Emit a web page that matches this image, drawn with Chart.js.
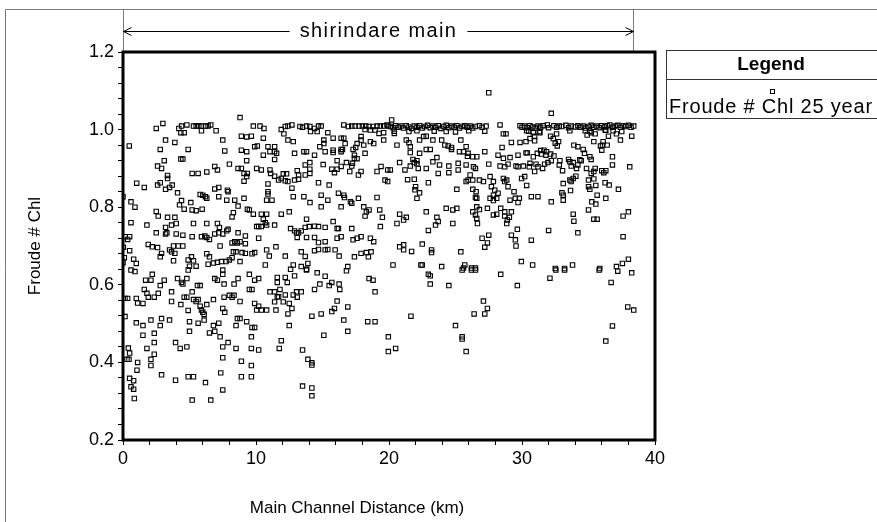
<!DOCTYPE html>
<html>
<head>
<meta charset="utf-8">
<title>shirindare main</title>
<script src="https://cdn.jsdelivr.net/npm/chart.js@4.4.1/dist/chart.umd.min.js"></script>
<style>
  html, body { margin: 0; padding: 0; background: #fff; }
  canvas { display: block; }
</style>
</head>
<body>
<canvas id="graficoFroude" width="877" height="522"></canvas>
<script>
// Froude # Chl ao longo do canal principal, [distância km, Froude]
// dividido por trechos de 10 km
const trecho0a10 = [
  [0.47,0.958],[1.03,0.862],[0.0,0.827],[0.6,0.814],[0.9,0.8],[0.6,0.76],[0.15,0.724],[0.35,0.717],[0.5,0.724],
  [0.03,0.697],[0.5,0.688],[0.1,0.67],[0.0,0.657],[0.8,0.666],[1.0,0.655],[0.6,0.638],[0.9,0.634],[0.15,0.565],
  [0.35,0.565],[1.0,0.565],[1.1,0.553],[0.15,0.518],[1.0,0.502],[0.4,0.437],[0.3,0.408],[0.45,0.408],[0.5,0.424],
  [1.1,0.4],[1.05,0.38],[0.5,0.359],[0.8,0.353],[0.6,0.337],[0.8,0.331],[0.85,0.307],
  [8.8,1.031],[2.5,1.003],[3.0,1.016],[4.2,1.003],[4.4,1.009],[4.8,1.012],[4.35,0.992],[4.6,0.992],[5.3,1.009],
  [5.5,1.009],[5.7,1.009],[5.9,1.009],[6.2,1.009],[6.4,1.009],[6.6,1.012],[5.9,0.997],[7.0,0.997],[9.8,1.009],
  [3.2,0.973],[3.9,0.967],[2.8,0.949],[4.9,0.949],[7.5,0.973],[7.65,0.945],[8.9,0.983],[9.3,0.981],[9.65,0.983],
  [8.9,0.947],[9.3,0.943],[9.9,0.956],[3.1,0.92],[4.35,0.924],[4.5,0.924],[2.6,0.906],[2.9,0.9],[9.3,0.92],
  [8.0,0.911],[8.65,0.9],[8.9,0.9],[6.9,0.905],[7.1,0.896],[3.35,0.882],[3.35,0.874],[5.2,0.887],[5.65,0.887],
  [6.3,0.891],[9.1,0.887],[9.35,0.887],[9.3,0.879],[9.1,0.867],[1.6,0.851],[2.6,0.857],[2.8,0.863],[3.2,0.846],
  [3.5,0.851],[3.7,0.857],[4.1,0.837],[5.8,0.833],[6.0,0.831],[6.2,0.827],[6.3,0.823],[6.9,0.847],[7.2,0.851],
  [7.85,0.844],[7.9,0.84],[7.2,0.827],[7.8,0.818],[8.4,0.818],[9.1,0.823],[4.4,0.817],[4.25,0.806],[4.6,0.795],
  [5.1,0.812],[5.2,0.793],[5.5,0.791],[5.95,0.795],[8.65,0.803],[9.35,0.795],[9.5,0.793],[8.3,0.786],[8.2,0.775],
  [2.5,0.789],[2.65,0.777],[3.35,0.774],[3.9,0.774],[9.8,0.782],[1.8,0.754],[3.2,0.748],[3.65,0.754],[4.0,0.758],
  [5.3,0.758],[6.3,0.758],[7.1,0.758],[7.25,0.748],[7.9,0.743],[2.5,0.734],[3.2,0.731],[3.3,0.734],[4.0,0.731],
  [4.5,0.728],[5.2,0.724],[5.9,0.724],[6.15,0.726],[6.3,0.722],[6.9,0.731],[7.2,0.734],[7.5,0.731],[7.8,0.739],
  [8.65,0.734],[9.2,0.726],[1.9,0.704],[2.2,0.698],[2.6,0.696],[3.65,0.685],[3.8,0.7],[4.15,0.7],[4.5,0.7],
  [3.5,0.69],[3.9,0.681],[2.9,0.681],[2.8,0.672],[6.5,0.717],[7.3,0.7],[8.2,0.708],[8.4,0.711],[8.6,0.708],
  [8.8,0.711],[9.2,0.706],[8.3,0.685],[8.5,0.685],[8.95,0.683],[9.2,0.681],[9.7,0.68],[3.8,0.662],[4.9,0.664],
  [5.15,0.672],[5.3,0.662],[5.0,0.648],[5.5,0.648],[6.3,0.68],[6.5,0.672],[6.4,0.653],[6.8,0.656],[7.1,0.658],
  [7.4,0.66],[7.75,0.66],[8.0,0.664],[8.2,0.67],[8.8,0.66],
  [2.2,0.627],[4.9,0.638],[7.5,0.638],[7.5,0.627],[9.5,0.627],[1.7,0.612],[2.1,0.612],[2.8,0.598],[3.1,0.612],
  [4.1,0.616],[4.4,0.606],[4.5,0.602],[4.8,0.616],[5.6,0.598],[5.8,0.598],[6.9,0.616],[7.1,0.612],[7.6,0.602],
  [8.35,0.602],[8.65,0.616],[9.5,0.588],[9.7,0.588],[1.6,0.588],[1.8,0.578],[1.9,0.568],[2.35,0.568],[2.65,0.578],
  [3.65,0.582],[3.65,0.557],[4.6,0.568],[4.8,0.568],[5.2,0.582],[5.3,0.562],[5.5,0.557],[5.65,0.562],[6.8,0.562],
  [7.6,0.568],[8.0,0.573],[8.35,0.573],[8.2,0.568],[8.8,0.557],[1.5,0.552],[4.35,0.549],[4.9,0.534],[5.8,0.545],
  [5.9,0.535],[6.0,0.529],[6.1,0.524],[6.3,0.549],[7.5,0.539],[7.65,0.529],[1.5,0.495],[2.1,0.509],[2.9,0.513],
  [3.5,0.509],[2.8,0.495],[5.0,0.505],[5.65,0.501],[6.1,0.509],[6.8,0.495],[7.2,0.501],[8.6,0.513],[8.8,0.513],
  [8.5,0.495],[9.3,0.505],[9.7,0.49],[1.5,0.47],[2.35,0.475],[5.0,0.48],[6.5,0.476],[6.9,0.48],[7.3,0.466],
  [9.65,0.466],[2.35,0.451],[1.8,0.436],[3.95,0.451],[4.3,0.436],[4.8,0.44],[7.5,0.44],[7.9,0.451],[8.5,0.436],
  [9.65,0.436],[2.35,0.421],[2.1,0.408],[2.1,0.392],[7.5,0.412],[8.9,0.403],[9.65,0.392],[2.9,0.368],[3.95,0.354],
  [4.9,0.363],[5.3,0.363],[6.2,0.348],[7.35,0.373],[8.9,0.363],[9.65,0.363],[7.5,0.329],[5.2,0.303],[6.6,0.303]
];

const trecho10a20 = [
  [10.3,1.009],[10.6,1.003],[11.9,1.0],[12.2,1.008],[12.4,1.009],[12.7,1.012],[12.1,0.989],[13.3,1.008],[13.5,1.006],
  [13.8,1.009],[14.05,1.008],[14.4,1.003],[14.7,1.009],[14.9,1.009],[14.1,0.995],[14.6,0.995],[15.4,0.992],[16.6,1.012],
  [16.95,1.008],[17.2,1.009],[17.45,1.009],[17.75,1.009],[18.0,1.009],[18.25,1.009],[18.5,1.008],[18.8,1.008],[19.1,1.009],
  [19.35,1.009],[19.6,1.009],[19.85,1.012],[19.95,1.009],[18.2,1.0],[18.6,0.999],[18.95,0.999],[19.25,0.99],[19.6,0.992],
  [10.55,0.978],[10.9,0.956],[11.4,0.956],[12.4,0.973],[12.8,0.969],[15.1,0.973],[15.1,0.964],[14.8,0.956],[15.8,0.978],
  [16.4,0.978],[16.6,0.978],[16.7,0.964],[17.9,0.982],[17.9,0.973],[18.1,0.96],[17.6,0.964],[18.6,0.969],[18.85,0.964],
  [19.6,0.973],[10.1,0.958],[10.55,0.934],[11.05,0.943],[11.4,0.943],[11.55,0.939],[12.9,0.939],[13.6,0.943],[13.8,0.943],
  [14.4,0.934],[15.2,0.943],[15.8,0.947],[15.8,0.941],[16.4,0.949],[16.4,0.943],[16.5,0.949],[17.3,0.949],[17.5,0.954],
  [18.2,0.939],[11.4,0.923],[17.4,0.934],[17.6,0.925],[10.05,0.9],[10.4,0.896],[11.05,0.896],[11.1,0.887],[11.4,0.88],
  [11.7,0.87],[11.9,0.874],[12.2,0.868],[12.4,0.866],[12.05,0.886],[12.3,0.886],[13.1,0.894],[13.2,0.883],[13.2,0.872],
  [12.9,0.87],[13.7,0.909],[14.05,0.915],[14.05,0.898],[14.05,0.887],[13.7,0.883],[15.05,0.91],[15.7,0.898],[15.9,0.889],
  [16.1,0.898],[16.1,0.92],[16.4,0.905],[16.8,0.915],[17.2,0.906],[17.25,0.913],[17.4,0.926],[17.05,0.892],[17.7,0.883],
  [17.9,0.892],[19.1,0.892],[19.4,0.905],[19.9,0.896],[19.7,0.87],[10.9,0.86],[10.9,0.84],[10.9,0.834],[10.8,0.818],
  [11.2,0.818],[12.7,0.849],[12.8,0.827],[13.6,0.827],[14.06,0.812],[14.7,0.863],[15.5,0.857],[14.9,0.831],[15.4,0.818],
  [16.2,0.836],[16.6,0.831],[16.65,0.825],[17.2,0.81],[17.1,0.814],[16.4,0.801],[14.9,0.801],[17.7,0.823],[18.1,0.801],
  [18.3,0.788],[18.5,0.793],[18.2,0.777],[19.1,0.825],[19.35,0.75],[19.9,0.866],[10.4,0.782],[10.8,0.782],[10.55,0.769],
  [10.7,0.76],[10.05,0.75],[10.2,0.75],[10.4,0.75],[10.8,0.754],[11.4,0.754],[10.2,0.72],[11.9,0.782],[12.5,0.788],
  [13.8,0.769],[12.6,0.745],[12.9,0.739],[13.05,0.734],[13.2,0.734],[13.4,0.739],[13.7,0.748],[14.0,0.75],[14.4,0.751],
  [14.7,0.75],[15.2,0.748],[13.1,0.722],[13.8,0.722],[14.4,0.722],[14.7,0.709],[15.2,0.711],[15.8,0.763],[16.1,0.745],
  [16.2,0.745],[16.1,0.72],[16.4,0.724],[17.2,0.745],[17.3,0.716],[17.6,0.72],[17.9,0.724],[18.6,0.72],[18.85,0.711],
  [19.3,0.793],[19.5,0.774],[9.9,0.683],[10.8,0.69],[11.0,0.674],[11.5,0.698],[12.2,0.674],[13.4,0.685],[13.7,0.673],
  [14.4,0.688],[14.7,0.691],[15.2,0.69],[15.4,0.691],[15.95,0.69],[16.25,0.674],[13.4,0.647],[13.9,0.655],[13.8,0.64],
  [16.9,0.647],[17.4,0.672],[17.9,0.681],[18.3,0.683],[18.65,0.685],[18.45,0.672],[10.7,0.651],[12.8,0.651],[12.6,0.64],
  [9.9,0.612],[10.2,0.616],[11.6,0.619],[11.6,0.606],[12.2,0.619],[12.35,0.606],[12.9,0.623],[13.8,0.638],[14.6,0.631],
  [15.2,0.622],[15.7,0.606],[16.25,0.602],[15.5,0.598],[14.8,0.602],[16.3,0.588],[14.4,0.588],[16.8,0.636],[18.5,0.616],
  [18.8,0.612],[18.95,0.582],[11.05,0.582],[11.4,0.582],[11.8,0.588],[11.7,0.569],[11.6,0.569],[12.2,0.574],[12.8,0.574],
  [13.05,0.582],[13.4,0.582],[13.1,0.568],[11.4,0.556],[12.05,0.556],[12.5,0.552],[12.7,0.539],[9.9,0.552],[10.2,0.545],
  [10.05,0.535],[10.4,0.535],[10.8,0.535],[11.5,0.535],[12.4,0.525],[12.5,0.495],[14.2,0.519],[14.9,0.525],[15.7,0.531],
  [15.9,0.539],[16.1,0.558],[16.9,0.543],[16.6,0.509],[16.9,0.48],[15.1,0.47],[18.4,0.505],[18.95,0.505],[9.9,0.49],
  [11.9,0.456],[11.75,0.436],[10.2,0.432],[13.5,0.432],[13.9,0.408],[14.2,0.399],[14.2,0.393],[13.5,0.339],[14.2,0.334],
  [14.2,0.314],[19.95,0.466],[19.95,0.428]
];

const trecho20a30 = [
  [20.1,1.008],[20.3,1.005],[20.5,1.01],[20.7,1.006],[20.9,1.009],[21.1,1.004],[21.3,1.01],[21.5,1.007],[21.7,1.003],
  [21.9,1.009],[22.1,1.006],[22.3,1.01],[22.5,1.004],[22.7,1.008],[22.9,1.011],[23.1,1.005],[23.3,1.009],[23.5,1.006],
  [23.7,1.01],[23.9,1.003],[24.1,1.008],[24.3,1.011],[24.5,1.005],[24.7,1.009],[24.9,1.006],[25.1,1.01],[25.3,1.004],
  [25.5,1.008],[25.7,1.01],[25.9,1.006],[26.1,1.009],[26.3,1.004],[26.5,1.008],[26.8,1.01],[27.0,1.006],[27.3,1.009],
  [20.4,0.996],[21.5,0.995],[22.1,0.997],[23.4,0.996],[24.3,0.995],[25.0,0.994],[26.0,0.997],[27.2,0.996],
  [20.2,1.025],[20.4,0.99],[28.35,1.012],[28.6,0.989],[28.8,0.989],[29.85,1.01],[30.0,1.006],[27.5,1.095],
  [20.6,0.96],[21.3,0.973],[21.5,0.966],[22.3,0.973],[22.6,0.982],[22.8,0.983],[23.3,0.973],[23.96,0.973],[24.2,0.96],
  [24.45,0.958],[24.7,0.954],[24.7,0.949],[25.4,0.973],[22.8,0.949],[23.1,0.949],[25.8,0.956],[25.3,0.943],[25.6,0.943],
  [25.95,0.939],[26.3,0.93],[26.6,0.93],[27.2,0.943],[28.5,0.954],[29.2,0.967],[29.85,0.967],[28.2,0.934],[28.6,0.926],
  [29.1,0.928],[29.7,0.934],[21.6,0.956],[21.6,0.941],[22.3,0.939],[22.1,0.92],[21.8,0.923],[20.8,0.915],[21.2,0.896],
  [21.6,0.906],[21.9,0.915],[22.1,0.912],[22.2,0.9],[22.8,0.9],[23.3,0.917],[23.6,0.928],[23.8,0.909],[23.7,0.887],
  [24.5,0.906],[24.5,0.889],[25.2,0.913],[25.2,0.896],[25.8,0.909],[25.9,0.931],[26.35,0.904],[26.1,0.883],[26.5,0.9],
  [27.5,0.911],[28.35,0.906],[28.7,0.904],[28.95,0.911],[29.55,0.906],[29.7,0.904],[30.1,0.906],[20.1,0.896],[21.4,0.871],
  [21.9,0.872],[22.0,0.853],[21.95,0.845],[22.3,0.837],[22.1,0.823],[22.96,0.863],[25.1,0.846],[25.8,0.866],[25.95,0.87],
  [26.3,0.87],[26.8,0.87],[27.1,0.866],[26.3,0.846],[26.55,0.84],[26.5,0.825],[26.6,0.823],[27.6,0.879],[27.85,0.866],
  [27.7,0.853],[27.95,0.844],[27.85,0.831],[28.2,0.836],[28.1,0.823],[27.6,0.823],[27.85,0.817],[28.6,0.874],[28.7,0.866],
  [28.85,0.87],[28.95,0.853],[29.4,0.84],[29.1,0.818],[29.5,0.823],[29.8,0.823],[29.7,0.812],[29.97,0.874],[20.8,0.782],
  [20.6,0.758],[21.1,0.767],[21.3,0.774],[22.8,0.788],[23.6,0.774],[23.7,0.763],[23.5,0.754],[24.3,0.797],[24.8,0.793],
  [25.1,0.797],[24.8,0.758],[26.3,0.788],[26.6,0.801],[26.8,0.794],[26.5,0.78],[26.6,0.771],[26.65,0.758],[27.4,0.797],
  [27.85,0.78],[28.1,0.782],[28.4,0.797],[28.7,0.788],[28.7,0.777],[28.9,0.767],[28.85,0.758],[29.05,0.774],[29.2,0.788],
  [22.96,0.74],[20.8,0.698],[21.1,0.703],[21.1,0.69],[21.7,0.686],[22.5,0.705],[23.2,0.69],[23.2,0.683],[25.4,0.685],
  [27.0,0.72],[27.5,0.728],[27.4,0.708],[27.2,0.697],[29.65,0.743],[29.2,0.728],[29.5,0.716],[29.55,0.7],[20.3,0.651],
  [22.4,0.651],[22.5,0.651],[23.96,0.647],[25.6,0.643],[25.7,0.651],[26.2,0.643],[26.5,0.643],[29.95,0.66],
  [25.5,0.638],[26.2,0.638],[26.5,0.638],[22.96,0.627],[23.1,0.623],[28.4,0.627],[23.1,0.602],[24.5,0.598],[29.65,0.598],
  [27.1,0.558],[27.4,0.539],[26.4,0.525],[27.2,0.525],[21.65,0.519],[25.0,0.495],[25.5,0.466],[25.5,0.46],[20.5,0.436],
  [25.8,0.428]
];

const trecho30a40 = [
  [32.2,1.042],[30.2,1.009],[30.4,1.005],[30.6,1.01],[30.8,1.007],[31.0,1.004],[31.2,1.009],[31.4,1.006],[31.6,1.01],
  [31.9,1.012],[32.0,1.005],[32.4,1.01],[32.6,1.006],[32.8,1.009],[33.0,1.008],[33.3,1.011],[33.5,1.005],[33.7,1.009],
  [34.0,1.007],[34.2,1.01],[34.4,1.006],[34.6,1.009],[34.8,1.004],[35.0,1.008],[35.2,1.011],[35.4,1.006],[35.6,1.009],
  [35.8,1.005],[36.0,1.01],[36.2,1.007],[36.4,1.01],[36.6,1.012],[36.8,1.006],[37.0,1.009],[37.2,1.011],[37.4,1.006],
  [37.6,1.01],[37.8,1.008],[38.0,1.011],[38.2,1.006],[38.4,1.009],[30.5,0.996],[31.3,0.995],[33.6,0.997],[35.1,0.996],
  [36.3,0.998],[37.5,0.995],[30.35,0.997],[30.85,0.992],[31.35,0.992],[30.6,0.977],[30.95,0.983],[30.95,0.971],
  [30.3,0.969],[32.15,0.983],[32.6,0.989],[32.35,0.977],[32.75,0.969],[32.65,0.958],[32.5,0.965],[34.75,0.997],
  [34.9,0.986],[35.2,0.992],[35.5,0.989],[36.25,0.999],[36.5,0.983],[36.85,0.997],[37.1,0.989],[37.4,0.973],[38.25,0.983],
  [35.4,0.969],[36.1,0.969],[35.9,0.958],[36.05,0.96],[36.4,0.96],[36.0,0.947],[30.3,0.94],[30.4,0.94],[30.85,0.93],
  [31.15,0.939],[31.4,0.946],[31.65,0.947],[31.85,0.943],[31.45,0.937],[31.8,0.934],[32.15,0.937],[32.4,0.932],[32.2,0.92],
  [33.9,0.96],[34.2,0.956],[34.6,0.949],[34.7,0.939],[35.1,0.93],[35.2,0.923],[34.35,0.922],[33.5,0.923],[33.6,0.917],
  [33.85,0.915],[33.7,0.906],[34.1,0.9],[34.2,0.909],[34.45,0.92],[36.8,0.93],[36.8,0.909],[38.1,0.904],[30.6,0.913],
  [30.55,0.904],[31.05,0.911],[31.2,0.904],[31.55,0.9],[31.7,0.911],[31.95,0.915],[32.85,0.92],[33.05,0.894],[32.8,0.909],
  [30.95,0.892],[34.85,0.9],[35.2,0.887],[35.5,0.9],[35.4,0.892],[36.0,0.894],[36.3,0.894],[36.15,0.889],[30.2,0.879],
  [30.35,0.856],[33.1,0.861],[33.6,0.87],[33.85,0.874],[33.7,0.866],[34.05,0.88],[35.0,0.87],[35.4,0.873],[35.55,0.856],
  [35.0,0.853],[35.1,0.846],[36.25,0.863],[36.55,0.857],[37.25,0.846],[30.7,0.827],[31.2,0.827],[32.2,0.814],[33.0,0.837],
  [33.1,0.831],[33.1,0.818],[33.65,0.843],[35.25,0.814],[35.55,0.808],[35.65,0.831],[36.3,0.823],[33.85,0.782],[33.9,0.764],
  [35.4,0.769],[35.65,0.769],[35.0,0.793],[37.6,0.777],[38.0,0.788],[32.0,0.74],[34.2,0.734],[37.6,0.724],[30.7,0.715],
  [30.8,0.651],[32.5,0.642],[33.2,0.642],[33.8,0.651],[35.85,0.642],[37.1,0.647],[37.55,0.655],[38.0,0.666],
  [32.1,0.617],[32.55,0.638],[33.2,0.638],[35.8,0.638],[37.2,0.635],[38.25,0.631],[36.7,0.606],[37.95,0.543],[38.4,0.535],
  [36.8,0.494],[36.3,0.455]
];

// extensão do trecho "shirindare main" (km)
const trechoPrincipal = [0, 38.35];

// rótulos dos eixos
const rotulosX = [0, 10, 20, 30, 40];
const rotulosY = ['0.2', '0.4', '0.6', '0.8', '1.0', '1.2'];

const fonte = '"Liberation Sans", Arial, sans-serif';

const pontos = trecho0a10.concat(trecho10a20, trecho20a30, trecho30a40)
  .map(([x, y]) => ({ x, y }));

// moldura, cabeçalho com a seta do trecho, título do eixo x e caixa de legenda
const decoracao = {
  id: 'decoracao',
  afterDraw(chart) {
    const { ctx, chartArea: a } = chart;
    const escalaX = chart.scales.x;
    ctx.save();

    // moldura externa cinza
    ctx.strokeStyle = '#7a7a7a';
    ctx.lineWidth = 1;
    ctx.beginPath();
    ctx.moveTo(5.5, 522);
    ctx.lineTo(5.5, 9.5);
    ctx.lineTo(877, 9.5);
    const xIni = Math.round(escalaX.getPixelForValue(trechoPrincipal[0])) + 0.5;
    const xFim = Math.round(escalaX.getPixelForValue(trechoPrincipal[1])) + 0.5;
    ctx.moveTo(xIni, 9.5); ctx.lineTo(xIni, a.top);
    ctx.moveTo(xFim, 9.5); ctx.lineTo(xFim, a.top);
    ctx.stroke();

    // seta com o nome do trecho
    const ySeta = 31.5;
    const xMeio = (xIni + xFim) / 2;
    ctx.font = '20px ' + fonte;
    ctx.letterSpacing = '1.4px';
    ctx.fillStyle = '#000';
    ctx.textAlign = 'center';
    ctx.textBaseline = 'middle';
    const nome = 'shirindare main';
    const meiaLarg = ctx.measureText(nome).width / 2 + 10;
    ctx.fillText(nome, xMeio, ySeta);
    ctx.strokeStyle = '#000';
    ctx.beginPath();
    ctx.moveTo(xIni, ySeta); ctx.lineTo(xMeio - meiaLarg, ySeta);
    ctx.moveTo(xMeio + meiaLarg, ySeta); ctx.lineTo(xFim, ySeta);
    ctx.moveTo(xIni + 8, ySeta - 4); ctx.lineTo(xIni, ySeta); ctx.lineTo(xIni + 8, ySeta + 4);
    ctx.moveTo(xFim - 8, ySeta - 4); ctx.lineTo(xFim, ySeta); ctx.lineTo(xFim - 8, ySeta + 4);
    ctx.stroke();

    // título do eixo x
    ctx.letterSpacing = '0px';
    ctx.font = '17px ' + fonte;
    ctx.fillText('Main Channel Distance (km)', 357, 508);

    // borda grossa da área do gráfico
    ctx.lineWidth = 3;
    ctx.strokeRect(a.left, a.top, a.right - a.left, a.bottom - a.top);

    // caixa de legenda
    ctx.lineWidth = 1;
    ctx.strokeStyle = '#333';
    ctx.strokeRect(666.5, 50.5, 220, 68);
    ctx.beginPath();
    ctx.moveTo(666.5, 79.5); ctx.lineTo(877, 79.5);
    ctx.stroke();
    ctx.font = 'bold 19px ' + fonte;
    ctx.fillText('Legend', 771, 65);
    ctx.strokeStyle = '#000';
    ctx.strokeRect(770.5, 89.5, 4, 4);
    ctx.font = '20px ' + fonte;
    ctx.letterSpacing = '0.8px';
    ctx.textAlign = 'left';
    ctx.fillText('Froude # Chl 25 year', 669, 107);
    ctx.restore();
  }
};

new Chart(document.getElementById('graficoFroude'), {
  type: 'scatter',
  data: {
    datasets: [{
      label: 'Froude # Chl 25 year',
      data: pontos,
      pointStyle: 'rect',
      pointRadius: 3.1,
      borderWidth: 1.1,
      borderColor: '#000',
      backgroundColor: 'rgba(0,0,0,0)'
    }]
  },
  options: {
    responsive: false,
    animation: false,
    events: [],
    layout: { padding: { top: 52, right: 222, bottom: 0, left: 0 } },
    plugins: {
      legend: { display: false },
      tooltip: { enabled: false }
    },
    scales: {
      x: {
        type: 'linear',
        min: 0,
        max: 40,
        afterFit: (s) => { s.height = 82; },
        border: { display: false },
        grid: { drawOnChartArea: false, drawTicks: true, tickLength: 5, color: '#000' },
        ticks: {
          stepSize: 2,
          autoSkip: false,
          maxRotation: 0,
          padding: 3,
          color: '#000',
          font: { family: fonte, size: 18 },
          callback: (v) => rotulosX.includes(v) ? String(v) : ''
        }
      },
      y: {
        min: 0.2,
        max: 1.2,
        afterFit: (s) => { s.width = 123; },
        border: { display: false },
        grid: { drawOnChartArea: false, drawTicks: true, tickLength: 5, color: '#000' },
        ticks: {
          stepSize: 0.04,
          autoSkip: false,
          padding: 4,
          color: '#000',
          font: { family: fonte, size: 18 },
          callback: (v) => {
            const t = Number(v).toFixed(1);
            return Math.abs(v - Number(t)) < 1e-6 && rotulosY.includes(t) ? t : '';
          }
        },
        title: {
          display: true,
          text: 'Froude # Chl',
          color: '#000',
          font: { family: fonte, size: 17 },
          padding: { top: 25, bottom: 0 }
        }
      }
    }
  },
  plugins: [decoracao]
});
</script>
</body>
</html>
